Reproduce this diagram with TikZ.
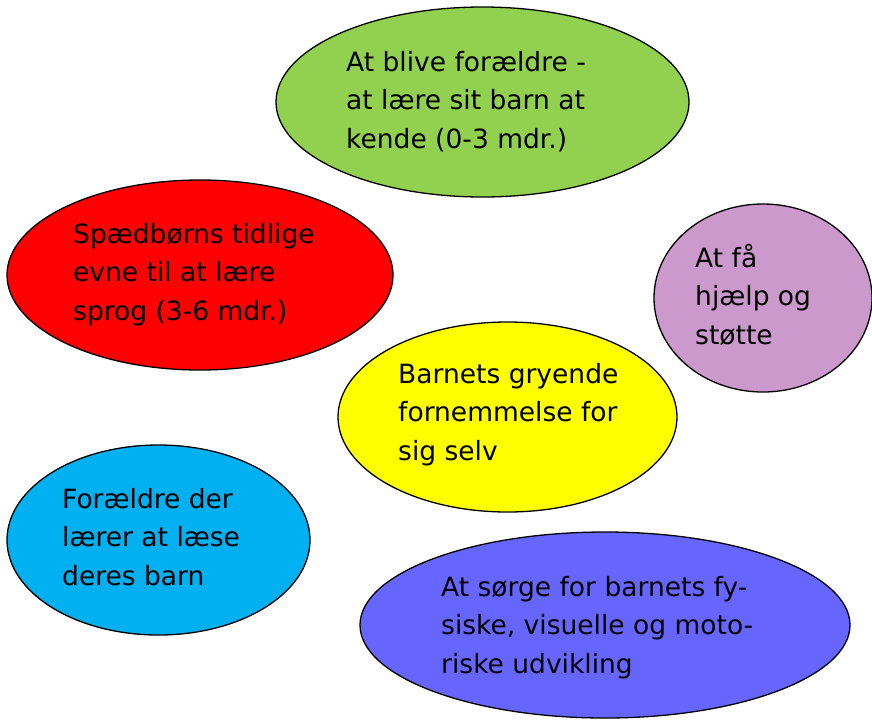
\documentclass[tikz,border=0pt]{standalone}
\usepackage{fontspec}
\setmainfont{DejaVu Sans}
\usetikzlibrary{shapes.geometric}
\definecolor{groen}{HTML}{92D050}
\definecolor{roed}{HTML}{FF0000}
\definecolor{lilla}{HTML}{CC99CC}
\definecolor{gul}{HTML}{FFFF00}
\definecolor{cyan}{HTML}{00B0F0}
\definecolor{blaa}{HTML}{6666FF}

\begin{document}
\begin{tikzpicture}[x=1pt,y=-1pt,
    boble/.style={ellipse,draw=black,line width=1.3pt,inner sep=0pt},
    tekst/.style={anchor=base west,align=left,inner sep=0pt,
      font=\fontsize{26.5}{38.5}\selectfont}]
        \useasboundingbox (0,0) rectangle (872,721);
        % At blive forældre
        \node[boble,fill=groen,minimum width=413pt,minimum height=190pt] (forael) at (482.5,102) {};
        \node[tekst] (foraeltxt) at (346,148) {At blive forældre -\\at lære sit barn at\\kende (0-3 mdr.)};
        % Sprog
        \node[boble,fill=roed,minimum width=386pt,minimum height=190pt] (sprog) at (200,275) {};
        \node[tekst] (sprogtxt) at (73,320) {Spædbørns tidlige\\evne til at lære\\sprog (3-6 mdr.)};
        % Hjælp
        \node[boble,fill=lilla,minimum width=218pt,minimum height=188pt] (hjaelp) at (763,298) {};
        \node[tekst] (hjaelptxt) at (695,344) {At få\\hjælp og\\støtte};
        % Barnets selv
        \node[boble,fill=gul,minimum width=339pt,minimum height=190pt] (selv) at (507.5,417) {};
        \node[tekst] (selvtxt) at (398,460) {Barnets gryende\\fornemmelse for\\sig selv};
        % Læse barnet
        \node[boble,fill=cyan,minimum width=303pt,minimum height=190pt] (laese) at (158.5,540) {};
        \node[tekst] (laesetxt) at (62,585) {Forældre der\\lærer at læse\\deres barn};
        % Udvikling
        \node[boble,fill=blaa,minimum width=490pt,minimum height=186pt] (udvik) at (605,625) {};
        \node[tekst] (udviktxt) at (441,673) {At sørge for barnets fy-\\siske, visuelle og moto-\\riske udvikling};
\end{tikzpicture}
\end{document}
